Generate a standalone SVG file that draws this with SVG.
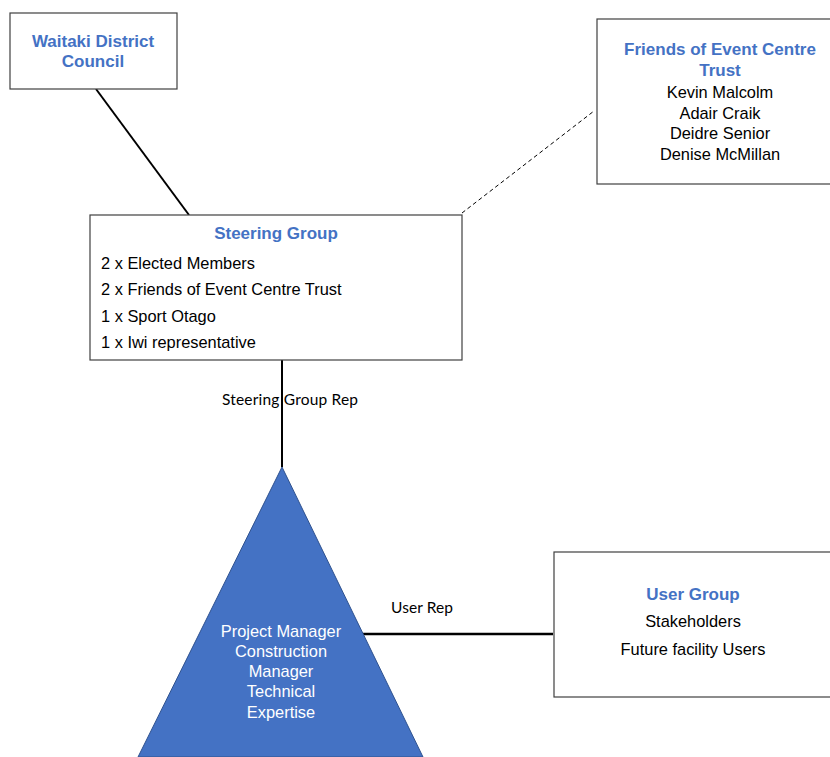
<svg xmlns="http://www.w3.org/2000/svg" width="830" height="757" viewBox="0 0 830 757">
<style>
.box{fill:#fff;stroke:#404040;stroke-width:1.2}
.title{font-family:"Liberation Sans",Arial,sans-serif;font-size:17px;font-weight:bold;fill:#4472C4;text-anchor:middle}
.body{font-family:"Liberation Sans",Arial,sans-serif;font-size:16.4px;fill:#000}
.mid{text-anchor:middle}
.white{fill:#fff}
.lbl{font-family:Lato,"Liberation Sans",sans-serif;font-size:15.5px;fill:#000}
.conn{stroke:#000;fill:none}
</style>
<rect width="830" height="757" fill="#fff"/>
<g id="connectors">
<line class="conn" x1="96" y1="89" x2="189" y2="215" stroke-width="2"/>
<line class="conn" x1="462" y1="213" x2="594" y2="111" stroke-width="1" stroke-dasharray="4,3"/>
<line class="conn" x1="282" y1="360" x2="282" y2="467" stroke-width="2"/>
<line class="conn" x1="363" y1="634" x2="553" y2="634" stroke-width="2.5"/>
<text class="lbl" x="222" y="405" textLength="136">Steering Group Rep</text>
<text class="lbl" x="391" y="613" textLength="62">User Rep</text>
</g>
<g id="waitaki">
<rect class="box" x="10" y="13" width="167" height="76"/>
<text class="title" x="93" y="47">Waitaki District</text>
<text class="title" x="93" y="67">Council</text>
</g>
<g id="friends">
<rect class="box" x="597" y="19" width="250" height="165"/>
<text class="title" x="720" y="55">Friends of Event Centre</text>
<text class="title" x="720" y="76">Trust</text>
<text class="body mid" x="720" y="98">Kevin Malcolm</text>
<text class="body mid" x="720" y="119">Adair Craik</text>
<text class="body mid" x="720" y="139">Deidre Senior</text>
<text class="body mid" x="720" y="160">Denise McMillan</text>
</g>
<g id="steering">
<rect class="box" x="90" y="215" width="372" height="145"/>
<text class="title" x="276" y="239">Steering Group</text>
<text class="body" x="101" y="269">2 x Elected Members</text>
<text class="body" x="101" y="295">2 x Friends of Event Centre Trust</text>
<text class="body" x="101" y="322">1 x Sport Otago</text>
<text class="body" x="101" y="348">1 x Iwi representative</text>
</g>
<g id="project">
<polygon points="282,467 423,757 138,757" fill="#4472C4" stroke="#2F528F" stroke-width="1"/>
<text class="body mid white" x="281" y="637">Project Manager</text>
<text class="body mid white" x="281" y="657">Construction</text>
<text class="body mid white" x="281" y="677">Manager</text>
<text class="body mid white" x="281" y="697">Technical</text>
<text class="body mid white" x="281" y="718">Expertise</text>
</g>
<g id="usergroup">
<rect class="box" x="554" y="552" width="280" height="145"/>
<text class="title" x="693" y="600">User Group</text>
<text class="body mid" x="693" y="627">Stakeholders</text>
<text class="body mid" x="693" y="655">Future facility Users</text>
</g>
</svg>
